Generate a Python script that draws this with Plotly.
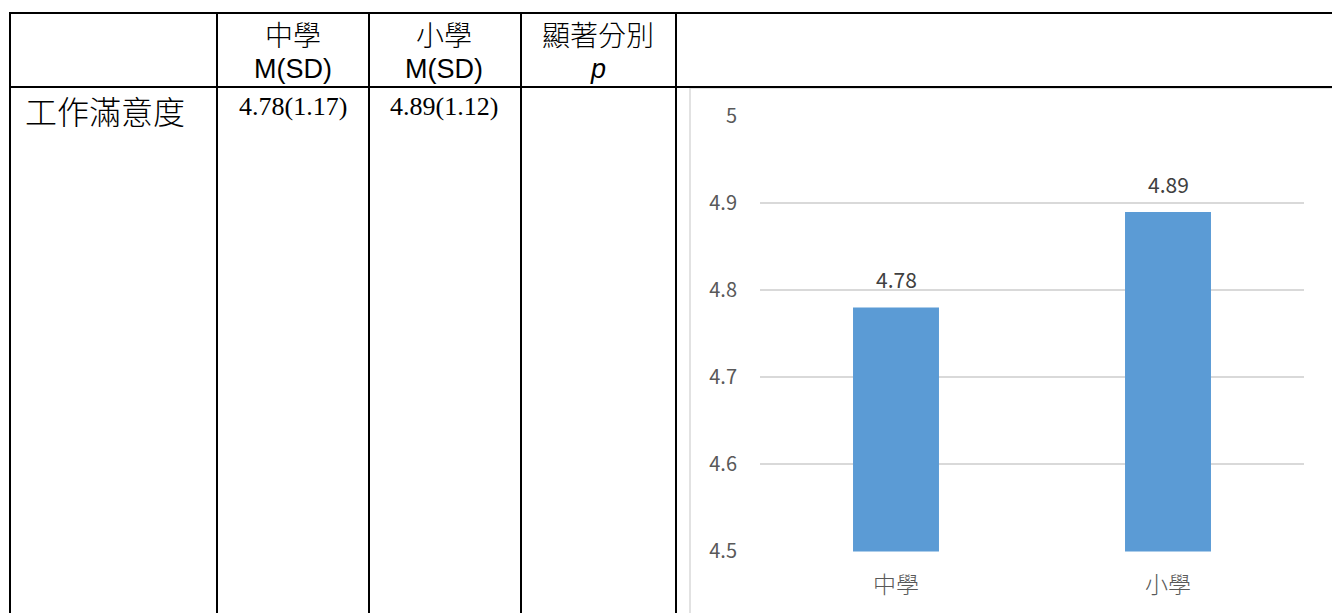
import plotly.graph_objects as go

# ---- data ----
categories = ["中學", "小學"]
means = [4.78, 4.89]
sds = [1.17, 1.12]
row_label = "工作滿意度"
header_groups = ["中學", "小學", "顯著分別"]
header_sub = ["M(SD)", "M(SD)", "p"]
y_ticks = [4.5, 4.6, 4.7, 4.8, 4.9, 5.0]
y_tick_text = ["4.5", "4.6", "4.7", "4.8", "4.9", "5"]

W, H = 1340, 613
OFF = 8  # page body margin
def px(x):
    return (x - OFF) / W
def py(y):
    return 1 - (y - OFF) / H

fig = go.Figure()
fig.add_trace(go.Bar(
    x=categories, y=means, marker_color="#5b9bd5", width=0.316,
    hoverinfo="skip", showlegend=False,
))

shapes = []
black = dict(color="black", width=2)
for yy in [13, 87]:
    shapes.append(dict(type="line", xref="paper", yref="paper",
                       x0=px(9), x1=px(1345), y0=py(yy), y1=py(yy), line=black))
for xx in [10, 217, 369, 521, 676]:
    shapes.append(dict(type="line", xref="paper", yref="paper",
                       x0=px(xx), x1=px(xx), y0=py(12), y1=py(620), line=black))
shapes.append(dict(type="rect", xref="paper", yref="paper",
                   x0=px(690), x1=px(1333), y0=py(88), y1=py(630),
                   line=dict(color="#d9d9d9", width=1.5), layer="below"))

ann = []
cjk = "Noto Sans CJK TC"
col_centers = [293, 444, 598]
for c, g, s in zip(col_centers, header_groups, header_sub):
    ann.append(dict(xref="paper", yref="paper", x=px(c), y=py(34), text=g,
                    xanchor="center", yanchor="middle", showarrow=False,
                    font=dict(family=cjk, size=28, color="black", weight=300)))
    txt = "<i>p</i>" if s == "p" else s
    ann.append(dict(xref="paper", yref="paper", x=px(c), y=py(69), text=txt,
                    xanchor="center", yanchor="middle", showarrow=False,
                    font=dict(family="Liberation Sans", size=27, color="black")))
ann.append(dict(xref="paper", yref="paper", x=px(23), y=py(110), xanchor="left",
                yanchor="middle", text=row_label, showarrow=False,
                font=dict(family=cjk, size=32, color="black", weight=300)))
for c, m, s in zip(col_centers[:2], means, sds):
    ann.append(dict(xref="paper", yref="paper", x=px(c), y=py(106),
                    xanchor="center", yanchor="middle",
                    text=f"{m:.2f}({s:.2f})", showarrow=False,
                    font=dict(family="Liberation Serif", size=26, color="black")))
for cat, m in zip(categories, means):
    ann.append(dict(xref="x", yref="y", x=cat, y=m, text=f"{m:.2f}", yanchor="bottom",
                    yshift=11, showarrow=False,
                    font=dict(family=cjk, size=21, color="#404040")))

fig.update_layout(
    template="none",
    width=W, height=H, margin=dict(l=0, r=0, t=0, b=0, pad=0, autoexpand=False),
    paper_bgcolor="white", plot_bgcolor="white",
    shapes=shapes, annotations=ann, bargap=0.684, showlegend=False,
    xaxis=dict(domain=[px(760), px(1304)], showgrid=False, showline=False, zeroline=False,
               ticks="", tickfont=dict(family=cjk, size=23, color="#595959", weight=300),
               ticklabelstandoff=17, fixedrange=True, automargin=False),
    yaxis=dict(domain=[py(551.5), py(115.5)], range=[4.499, 5.001], tickvals=y_ticks,
               ticktext=y_tick_text, showgrid=True, gridcolor="#d9d9d9", gridwidth=1.5,
               zeroline=False, showline=False, ticks="",
               tickfont=dict(family=cjk, size=20, color="#595959"),
               ticklabelstandoff=22, fixedrange=True, automargin=False),
)
fig.write_html("out.html")
